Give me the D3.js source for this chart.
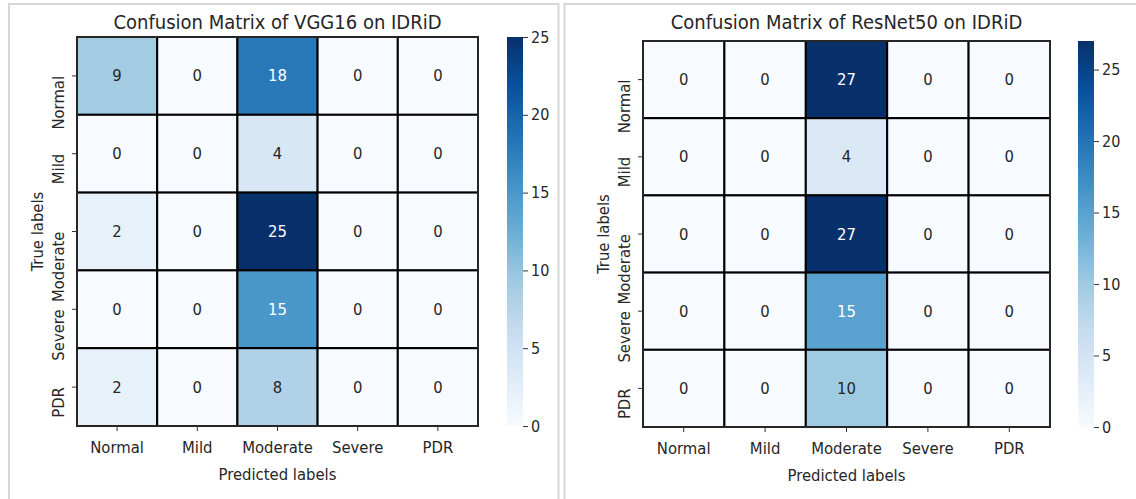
<!DOCTYPE html>
<html><head><meta charset="utf-8">
<script src="https://cdn.jsdelivr.net/npm/d3@7"></script>
<style>
body{margin:0;background:#fff;}
text{font-family:"DejaVu Sans Condensed","DejaVu Sans",sans-serif;fill:#262626;}
</style></head>
<body>
<svg id="c" width="1136" height="499"></svg>
<script>
const labels = ["Normal","Mild","Moderate","Severe","PDR"];
const vggValues = [
  [9,0,18,0,0],
  [0,0,4,0,0],
  [2,0,25,0,0],
  [0,0,15,0,0],
  [2,0,8,0,0]
];
const resnetValues = [
  [0,0,27,0,0],
  [0,0,4,0,0],
  [0,0,27,0,0],
  [0,0,15,0,0],
  [0,0,10,0,0]
];
const vggTicks = [0,5,10,15,20,25];
const resnetTicks = [0,5,10,15,20,25];
const titles = ["Confusion Matrix of VGG16 on IDRiD","Confusion Matrix of ResNet50 on IDRiD"];
const blues = ["#f7fbff","#deebf7","#c6dbef","#9ecae1","#6baed6","#4292c6","#2171b5","#08519c","#08306b"];

const svg = d3.select("#c");

// panel borders
svg.append("path").attr("d","M9,499V4H558.5V499").attr("fill","none").attr("stroke","#d6d6d6").attr("stroke-width",2);
svg.append("path").attr("d","M564.5,499V4H1136").attr("fill","none").attr("stroke","#d6d6d6").attr("stroke-width",2);

function lum(c){
  const f = v => { v/=255; return v<=0.03928 ? v/12.92 : Math.pow((v+0.055)/1.055,2.4); };
  return 0.2126*f(c.r)+0.7152*f(c.g)+0.0722*f(c.b);
}

function draw(cfg){
  const {values, ticks, title, x0, x1, y0, y1, cbx, cbw, vmax} = cfg;
  const g = svg.append("g");
  const x = d3.scaleBand().domain(labels).range([x0,x1]);
  const y = d3.scaleBand().domain(labels).range([y0,y1]);
  const color = d3.scaleLinear().domain(d3.range(blues.length).map(i=>i*vmax/(blues.length-1))).range(blues).clamp(true);
  const cells = [];
  values.forEach((row,i)=>row.forEach((v,j)=>cells.push({r:labels[i],c:labels[j],v})));
  g.selectAll("rect.cell").data(cells).join("rect")
    .attr("x",d=>x(d.c)).attr("y",d=>y(d.r))
    .attr("width",x.bandwidth()).attr("height",y.bandwidth())
    .attr("fill",d=>color(d.v)).attr("stroke","#000").attr("stroke-width",2);
  g.append("rect").attr("x",x0).attr("y",y0).attr("width",x1-x0).attr("height",y1-y0)
    .attr("fill","none").attr("stroke","#333").attr("stroke-width",1.5);
  g.selectAll("text.val").data(cells).join("text")
    .attr("x",d=>x(d.c)+x.bandwidth()/2).attr("y",d=>y(d.r)+y.bandwidth()/2)
    .attr("text-anchor","middle").attr("dominant-baseline","central")
    .attr("font-size",16.5)
    .style("fill",d=>lum(d3.color(color(d.v)).rgb())<0.408?"#fff":"#262626")
    .text(d=>d.v);
  // x axis
  const xa = g.append("g").attr("transform",`translate(0,${y1})`).call(d3.axisBottom(x).tickSize(5).tickPadding(10));
  xa.select(".domain").remove();
  xa.selectAll("line").attr("stroke","#333");
  xa.selectAll("text").attr("font-size",16.5).style("fill","#262626").attr("font-family",null);
  // y axis
  const ya = g.append("g").attr("transform",`translate(${x0},0)`).call(d3.axisLeft(y).tickSize(5).tickPadding(6));
  ya.select(".domain").remove();
  ya.selectAll("line").attr("stroke","#333");
  ya.selectAll("text").attr("font-size",16.5).style("fill","#262626").attr("font-family",null)
    .attr("text-anchor","end").attr("dy",null).attr("x",null)
    .attr("transform","translate(-13,0) rotate(-90)");
  // labels
  g.append("text").attr("x",(x0+x1)/2).attr("y",y1+54).attr("text-anchor","middle").attr("font-size",16.5).text("Predicted labels");
  g.append("text").attr("transform",`translate(${x0-34},${(y0+y1)/2}) rotate(-90)`).attr("text-anchor","middle").attr("font-size",16.5).text("True labels");
  g.append("text").attr("x",(x0+x1)/2).attr("y",29).attr("text-anchor","middle").attr("font-size",20).text(title);
  // colorbar
  const cy = d3.scaleLinear().domain([0,vmax]).range([y1,y0]);
  const defs = svg.append("defs");
  const gid = "grad"+cbx;
  const grad = defs.append("linearGradient").attr("id",gid).attr("x1",0).attr("y1",1).attr("x2",0).attr("y2",0);
  blues.forEach((c,i)=>grad.append("stop").attr("offset",i/(blues.length-1)).attr("stop-color",c));
  g.append("rect").attr("x",cbx).attr("y",y0).attr("width",cbw).attr("height",y1-y0).attr("fill",`url(#${gid})`);
  const ca = g.append("g").attr("transform",`translate(${cbx+cbw},0)`).call(d3.axisRight(cy).tickValues(ticks).tickSize(5).tickPadding(3));
  ca.select(".domain").remove();
  ca.selectAll("line").attr("stroke","#333");
  ca.selectAll("text").attr("font-size",16).style("fill","#262626").attr("font-family",null);
}

draw({values:vggValues,ticks:vggTicks,title:titles[0],x0:77,x1:478,y0:37,y1:426,cbx:507,cbw:16,vmax:25});
draw({values:resnetValues,ticks:resnetTicks,title:titles[1],x0:643,x1:1050,y0:41,y1:427,cbx:1078,cbw:16,vmax:27});
</script>
</body></html>
